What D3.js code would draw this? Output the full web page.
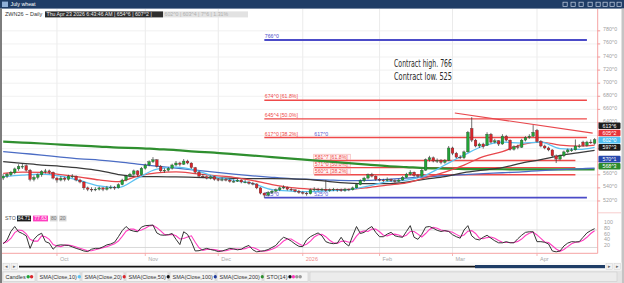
<!DOCTYPE html>
<html><head><meta charset="utf-8">
<script src="https://cdn.jsdelivr.net/npm/d3@7"></script>
<style>html,body{margin:0;padding:0;background:#fff;overflow:hidden}svg{display:block;font-family:"Liberation Sans",Arial,sans-serif}</style>
</head><body><svg id="c" width="624" height="283"></svg>
<script>
// ---------- DATA ----------
const monthLabels = ["Oct","Nov","Dec","2026","Feb","Mar","Apr"];
const monthIndex = [14,37,56,78,98,117,139];
const open = [555,558,560,563,569,572,574,567,553,556, 560,565,566,564,555,552,555,553,558,558,
 552,549,540,538,537,538,540,538,540,541, 540,545,552,558,561,566,560,570,575,580,
 583,573,566,567,570,575,578,576,581,578, 571,564,558,557,555,557,553,552,553,552,
 550,550,552,549,549,547,546,540,532,529, 533,535,537,540,541,538,537,535,533,532,
 531,537,538,537,538,536,537,538,537,536, 538,537,540,545,551,555,560,558,553,552,
 551,553,551,550,552,556,561,564,559,558, 567,583,586,581,582,579,582,601,593,587,
 586,595,631,613,604,607,605,622,610,612, 607,619,613,599,603,602,613,617,619,628,
 611,604,601,598,589,584,589,595,598,598, 604,610,605,610,608];
const high = [561,563,566,571,576,578,576,569,559,562, 567,569,568,565,557,558,557,560,561,559,
 554,550,542,541,541,542,541,543,544,543, 547,554,560,563,568,567,572,577,582,587,
 584,575,570,572,577,581,580,584,583,579, 572,566,561,559,559,558,555,556,555,554,
 553,554,553,552,550,549,547,541,533,535, 537,539,542,544,542,540,538,537,535,534,
 539,541,540,540,552,539,540,539,539,540, 539,542,547,553,557,562,563,559,555,554,
 556,554,553,554,558,563,567,565,561,569, 585,589,588,585,584,584,604,603,595,590,
 597,627,648,615,609,609,625,624,615,613, 622,621,614,605,606,615,619,622,636,630,
 613,606,603,599,591,591,597,600,601,614, 607,612,612,614,616];
const low = [552,555,558,561,566,569,565,550,550,553, 557,562,561,553,548,550,550,551,555,550,
 547,537,535,534,535,536,535,536,538,537, 539,544,550,556,559,557,559,568,573,578,
 571,564,563,565,568,573,573,575,576,569, 562,556,555,553,553,551,550,550,550,548,
 548,549,547,547,545,544,538,530,525,527, 531,533,535,538,536,535,533,531,530,528,
 530,535,535,535,534,534,535,534,534,534, 535,536,539,544,549,553,556,551,550,549,
 550,549,548,549,551,555,559,557,555,557, 566,580,579,578,576,577,581,590,585,584,
 584,594,610,602,601,600,604,608,608,604, 606,611,597,597,599,601,611,615,618,609,
 602,599,596,587,578,582,587,593,595,597, 601,603,603,607,606];
const close = [558,561,564,569,573,573,567,553,556,560, 565,566,564,555,552,555,553,558,558,552,
 549,540,538,537,538,540,538,540,541,540, 545,552,558,561,566,560,570,575,580,583,
 573,566,567,570,575,578,576,581,578,571, 564,558,557,555,557,553,552,553,552,550,
 550,552,549,549,547,546,540,532,529,533, 535,537,540,541,538,537,535,533,532,531,
 537,538,537,538,536,537,538,537,536,538, 537,540,545,551,555,560,558,553,552,551,
 553,551,550,552,556,561,564,559,558,567, 583,586,581,582,579,582,601,593,587,586,
 595,625,613,604,607,603,622,610,612,607, 619,613,599,603,602,613,617,619,625,611,
 604,601,598,589,584,589,595,598,598,604, 604,605,610,609,613.75];
// moving averages read at every 5th bar
const smaIndex = [0,5,10,15,20,25,30,35,40,45,50,55,60,65,70,75,80,85,90,95,100,105,110,115,120,125,130,135,140,145,150,154];
const sma10 = [557.3,559.6,561.1,558,551,543,540.5,555,568.8,571.8,567.2,557.3,551.9,546.6,537.4,535.1,534.3,535.9,537.4,542.8,549.6,551.9,559.6,574.9,590.2,604,610,608.5,610,600.1,598.9,602];
const sma20 = [562.2,564.2,563.7,560.4,556.5,552.2,549.6,558.1,563,564.5,561.9,558.8,556.2,551.2,545.1,540.5,538.2,537,537.7,540.5,544.3,547.7,555.8,564.2,574.9,587.9,595.5,606.2,610,605.5,603.9,605.25];
const sma50 = [580.2,577.6,574.9,572.9,570.3,566.5,560.4,557.3,557.3,556.8,556.1,555.3,554.7,554.2,554.2,553.9,552.7,549.6,547.4,546.6,546.6,548.9,553.5,557.3,563.4,567.2,571.1,577.9,583.3,589.4,594,597.375];
const sma100 = [595.5,592.8,590.2,587.1,584.4,582.5,579.8,576.4,573.3,570.3,567.2,564.2,561.1,558.5,556.2,554.2,553,551.9,551.2,551.5,553,555,556.8,558.8,560.4,561.9,563.1,564.5,566.5,568,569.2,570.125];
const sma200 = [610.8,609.3,607.8,606.2,604.7,603.2,601.6,600.9,599.3,597.8,595.5,594,591.7,589.4,587.1,584.8,582.5,580.2,577.9,575.6,573.3,571.8,570.3,569.5,568.8,568.8,568.5,568.3,568.3,568.3,568.4,568.375];
const stoK = [33,46,75,92,74,68,60,17,48,62, 69,40,35,14,27,29,28,27,22,17, 13,8,6,14,17,17,22,29,32,38,
 57,78,92,80,76,74,90,95,96,97, 70,63,62,64,68,48,30,74,65,40, 8,9,13,17,13,10,6,8,12,17,
 15,12,14,22,27,12,5,7,9,13, 20,27,43,55,50,42,32,24,23,46, 57,64,70,60,40,35,33,35,55,35,
 25,60,92,68,72,84,92,72,57,57, 66,72,60,57,55,75,95,55,48,65, 90,92,86,79,75,78,75,64,57,52,
 80,95,60,49,46,55,62,52,43,36, 36,40,36,36,50,62,72,74,74,40, 40,38,32,8,5,8,25,35,40,39,
 40,55,70,78,84.71];
const stoD = [35,40,51,71,80,78,67,48,42,42, 60,57,48,30,25,23,28,28,26,22, 17,13,9,9,12,16,19,23,28,33,
 42,58,76,83,83,77,80,86,94,96, 88,77,65,63,65,60,49,51,56,60, 38,19,10,13,14,13,10,8,9,12,
 15,15,14,16,21,20,15,8,7,10, 14,20,30,42,49,49,41,33,26,31, 42,56,64,65,57,45,36,34,41,42,
 38,40,59,73,77,75,83,83,74,62, 60,65,66,63,57,62,75,75,66,56, 68,82,89,86,80,77,76,72,65,58,
 63,76,78,68,52,50,54,56,52,44, 38,37,37,37,41,49,61,69,73,63, 51,39,37,26,15,7,13,23,33,38,
 39,45,55,68,77.63];
const priceTicks = [520,540,560,580,600,620,640,660,680,700,720,740,760,780];
const stoTicks = [20,40,60,80,100];
const stoLevels = [20,80];
const levelValues = [766,674,645.5,617,581.875,571,560.125,525];
const levelPct = ["","[61.8%]","[50.0%]","[38.2%]","[61.8%]","[50.0%]","[38.2%]",""];
const levelFrom = [68,68,68,68,81,81,81,68];
const levelTo = [152,152,152,152,149,149,149,152];
const markValues = [617,525];
const markIndex = [81,81];
const trendIndex = [117.6,153.5];
const trendValue = [654.4,623.8];
const notes = ["Contract high. 766","Contract low. 525"];
const legendItems = ["Candles","SMA(Close,10)","SMA(Close,20)","SMA(Close,50)","SMA(Close,100)","SMA(Close,200)","STO(14)"];

// ---------- DRAW ----------
const svg = d3.select("#c");
const fmt = v => Math.floor(v) + "^" + Math.round((v - Math.floor(v)) * 8);
const x = d3.scaleLinear().domain([0,154]).range([3.2,594.6]);
const y = d3.scaleLinear().domain([525,766]).range([197.7,40]);
const ys = d3.scaleLinear().domain([0,100]).range([253.3,224.2]);
const AX = 597.7;

svg.append("rect").attr("width",624).attr("height",283).attr("fill","#fff");
const defs = svg.append("defs");
defs.append("clipPath").attr("id","cp").append("rect").attr("x",2).attr("y",9).attr("width",AX-2).attr("height",203);
defs.append("clipPath").attr("id","cs").append("rect").attr("x",2).attr("y",214).attr("width",AX-2).attr("height",40);

// grid
const grid = svg.append("g");
grid.selectAll("line.v").data(monthIndex).join("line")
  .attr("x1",d=>x(d)).attr("x2",d=>x(d)).attr("y1",9).attr("y2",253.3)
  .attr("stroke","#e6e6e6").attr("stroke-width",0.8);
grid.selectAll("line.h").data(priceTicks).join("line")
  .attr("x1",2).attr("x2",AX).attr("y1",d=>y(d)).attr("y2",d=>y(d))
  .attr("stroke","#eeeeee").attr("stroke-width",0.8);
grid.selectAll("line.s").data(stoLevels).join("line")
  .attr("x1",2).attr("x2",AX).attr("y1",d=>ys(d)).attr("y2",d=>ys(d))
  .attr("stroke","#cfcfcf").attr("stroke-width",0.8);

const P = svg.append("g").attr("clip-path","url(#cp)");
// levels
const lv = P.append("g");
levelValues.forEach((v,k)=>{
  const col = (v===766||v===525) ? "#4b4bc8" : "#ef4a4a";
  lv.append("line").attr("x1",x(levelFrom[k])).attr("x2",x(levelTo[k]))
    .attr("y1",y(v)).attr("y2",y(v)).attr("stroke",col).attr("stroke-width",(v===766||v===525)?1.8:1.4);
  const t = fmt(v) + (levelPct[k] ? " " + levelPct[k] : "");
  if (levelFrom[k] === 81) {
    lv.append("rect").attr("x",x(levelFrom[k])-0.5).attr("y",y(v)-6.3).attr("width",36.5).attr("height",5.6)
      .attr("fill","#fff3f3").attr("stroke","#f4a0a0").attr("stroke-width",0.5);
  }
  lv.append("text").attr("x",x(levelFrom[k])+0.5).attr("y",y(v)-1.8).text(t)
    .attr("font-size",5.2).attr("fill",col);
});
markValues.forEach((v,k)=>{
  lv.append("text").attr("x",x(markIndex[k])).attr("y",y(v)-1.8).text(fmt(v))
    .attr("font-size",5.2).attr("fill","#5a5ad0");
});

// moving averages
const mk = arr => d3.line().x((d,i)=>x(smaIndex[i])).y(d=>y(d)).curve(d3.curveMonotoneX)(arr);
const smaStyle = [[sma200,"#2f8f2f",2.2],[sma100,"#4b6cc4",1.3],[sma50,"#3a3a3a",1.3],[sma20,"#e8474c",1.3],[sma10,"#5cc2f2",1.3]];
smaStyle.forEach(([a,c,w])=>P.append("path").attr("d",mk(a)).attr("fill","none").attr("stroke",c).attr("stroke-width",w));

// trend line
P.append("line").attr("x1",x(trendIndex[0])).attr("y1",y(trendValue[0]))
  .attr("x2",x(trendIndex[1])).attr("y2",y(trendValue[1])).attr("stroke","#e8474c").attr("stroke-width",1.2);

// candles
const idx = d3.range(close.length);
P.selectAll("line.wk").data(idx).join("line")
  .attr("x1",i=>x(i)).attr("x2",i=>x(i)).attr("y1",i=>y(high[i])).attr("y2",i=>y(low[i]))
  .attr("stroke","#333").attr("stroke-width",0.7);
P.selectAll("rect.bd").data(idx).join("rect")
  .attr("x",i=>x(i)-1.35).attr("width",2.7)
  .attr("y",i=>y(Math.max(open[i],close[i])))
  .attr("height",i=>Math.max(0.8,Math.abs(y(open[i])-y(close[i]))))
  .attr("fill",i=>close[i]>=open[i]?"#21a336":"#d9262c")
  .attr("stroke","#333").attr("stroke-width",0.3);

// notes
notes.forEach((t,k)=>svg.append("text").attr("x",394).attr("y",67+k*13).text(t)
  .attr("font-size",11).attr("fill","#2b2b2b")
  .attr("font-family","'Liberation Sans Narrow','DejaVu Sans Condensed',sans-serif")
  .attr("textLength",58).attr("lengthAdjust","spacingAndGlyphs"));

// stochastic
const S = svg.append("g").attr("clip-path","url(#cs)");
const sl = d3.line().x((d,i)=>x(i)).y(d=>ys(d));
S.append("path").attr("d",sl(stoD)).attr("fill","none").attr("stroke","#ff3ec0").attr("stroke-width",1.1);
S.append("path").attr("d",sl(stoK)).attr("fill","none").attr("stroke","#333").attr("stroke-width",1);

// right axis
svg.append("line").attr("x1",AX).attr("x2",AX).attr("y1",9).attr("y2",253.3).attr("stroke","#f5a3a3").attr("stroke-width",1);
svg.append("line").attr("x1",AX).attr("x2",621).attr("y1",212.8).attr("y2",212.8).attr("stroke","#f5c0c0").attr("stroke-width",0.8);
const ra = svg.append("g");
priceTicks.filter(v=>y(v)>12 && y(v)<210).forEach(v=>{
  ra.append("line").attr("x1",AX).attr("x2",AX+2.5).attr("y1",y(v)).attr("y2",y(v)).attr("stroke","#f08080").attr("stroke-width",0.8);
  ra.append("text").attr("x",603).attr("y",y(v)).attr("dy","0.1em").text(fmt(v)).attr("font-size",5.3).attr("fill","#a0a0a0");
});
stoTicks.forEach(v=>{
  ra.append("text").attr("x",604).attr("y",ys(v)).attr("dy","-0.05em").text(v).attr("font-size",5.3).attr("fill","#a0a0a0");
});

// last-value tags
const tags = [[close[close.length-1],"#1c1c1c"],[sma20[sma20.length-1],"#e6353b"],[sma10[sma10.length-1],"#4fc0f3"],
  [sma50[sma50.length-1],"#1c1c1c"],[sma100[sma100.length-1],"#2748ad"],[sma200[sma200.length-1],"#2c8a2c"]]
  .map(([v,c])=>({v,c,py:y(v)-3})).sort((a,b)=>b.py-a.py);
for (let k=1;k<tags.length;k++) tags[k].py = Math.min(tags[k].py, tags[k-1].py-7.2);
tags.forEach(t=>{
  svg.append("rect").attr("x",598.5).attr("y",t.py-3.3).attr("width",22).attr("height",6.6).attr("rx",1).attr("fill",t.c);
  svg.append("text").attr("x",609.5).attr("y",t.py).attr("dy","0.35em").attr("text-anchor","middle")
    .text(fmt(t.v)).attr("font-size",5.2).attr("fill","#fff");
});

// x axis
svg.append("line").attr("x1",2).attr("x2",AX).attr("y1",253.3).attr("y2",253.3).attr("stroke","#f5a3a3").attr("stroke-width",1);
monthIndex.forEach((m,k)=>{
  svg.append("line").attr("x1",x(m)).attr("x2",x(m)).attr("y1",253.3).attr("y2",256).attr("stroke","#f5a3a3").attr("stroke-width",0.8);
  svg.append("text").attr("x",x(m)+3).attr("y",261).text(monthLabels[k]).attr("font-size",5.5)
    .attr("fill",monthLabels[k]==="2026"?"#f08a8a":"#a8a8a8");
});

// title bar
svg.append("rect").attr("x",0).attr("y",0).attr("width",624).attr("height",8.6).attr("fill","#1f3d66");
svg.append("rect").attr("x",2).attr("y",1.6).attr("width",6).attr("height",5.4).attr("fill","#8fb0d8");
svg.append("text").attr("x",10.5).attr("y",6.3).text("July wheat").attr("font-size",5.3).attr("fill","#fff");
[563,571,579,588,596,603,610,617].forEach((cx,k)=>{
  svg.append("rect").attr("x",cx).attr("y",2.2).attr("width",4.2).attr("height",4.2)
    .attr("fill","none").attr("stroke","#c9d5e6").attr("stroke-width",0.7);
});
// borders
svg.append("rect").attr("x",0).attr("y",8.6).attr("width",2).attr("height",275).attr("fill","#7d7d7d");
svg.append("rect").attr("x",621.5).attr("y",8.6).attr("width",2.5).attr("height",275).attr("fill","#c4c4c4");

// header
svg.append("text").attr("x",5).attr("y",16).text("ZWN26 ~ Daily").attr("font-size",5.5).attr("fill","#333");
svg.append("rect").attr("x",45).attr("y",11.4).attr("width",118).attr("height",6).attr("fill","#2e2e2e");
svg.append("text").attr("x",46.5).attr("y",16).text("Thu Apr 23 2026 6:43:46 AM | 654^6 | 607^2 |").attr("font-size",5.2).attr("fill","#eee");
svg.append("rect").attr("x",163).attr("y",11.4).attr("width",85).attr("height",6).attr("fill","#e2e2e2");
svg.append("text").attr("x",164.5).attr("y",16).text("602^0 | 603^4 | 7^6 | 1.31%").attr("font-size",5.2).attr("fill","#b0b0b0");

// STO header
svg.append("text").attr("x",5).attr("y",220).text("STO").attr("font-size",5.3).attr("fill","#555");
const sh = [[stoK[stoK.length-1].toFixed(2),"#1c1c1c","#fff",17,14],[stoD[stoD.length-1].toFixed(2),"#ff3ec0","#fff",33,15],["80","#d8d8d8","#777",50,7.5],["20","#d8d8d8","#777",59,7.5]];
sh.forEach(([t,f,tc,bx,bw])=>{
  svg.append("rect").attr("x",bx).attr("y",215.6).attr("width",bw).attr("height",5.8).attr("fill",f);
  svg.append("text").attr("x",bx+bw/2).attr("y",220).attr("text-anchor","middle").text(t).attr("font-size",5).attr("fill",tc);
});

// scrollbar
svg.append("rect").attr("x",2).attr("y",262.5).attr("width",619.5).attr("height",8).attr("fill","#fafafa");
[[3,"◂"],[11,"▸"],[606,"▸"],[614,"▸"]].forEach(([bx,t])=>{
  svg.append("rect").attr("x",bx).attr("y",263.5).attr("width",6.5).attr("height",6).attr("fill","#f2f2f2").attr("stroke","#cfcfcf").attr("stroke-width",0.5);
  svg.append("text").attr("x",bx+3.25).attr("y",268.2).attr("text-anchor","middle").text(t).attr("font-size",4.5).attr("fill","#666");
});
svg.append("line").attr("x1",19).attr("x2",476).attr("y1",266.6).attr("y2",266.6).attr("stroke","#111").attr("stroke-width",1.6);
svg.append("rect").attr("x",475).attr("y",265).attr("width",130).attr("height",3.2).attr("fill","#1f3d66");

// legend
svg.append("rect").attr("x",2).attr("y",270.5).attr("width",619.5).attr("height",12.5).attr("fill","#e4e4e4");
const dots = [["#21a336","#d9262c"],["#5cc2f2"],["#d9262c"],["#111"],["#1f3b9c"],["#2f8f2f"],["#111","#ff3ec0","#999","#999"]];
let lx = 3;
legendItems.forEach((t,k)=>{
  const w = [32,43,42,42,45,45,44][k];
  svg.append("rect").attr("x",lx).attr("y",272).attr("width",w).attr("height",9.5).attr("fill","#f5f5f5").attr("stroke","#c6c6c6").attr("stroke-width",0.5);
  const tx = svg.append("text").attr("x",lx+2.5).attr("y",278.8).text(t).attr("font-size",5.5).attr("fill","#333");
  const tw = tx.node().getComputedTextLength();
  dots[k].forEach((c,j)=>svg.append("circle").attr("cx",lx+5+tw+j*3.4).attr("cy",276.8).attr("r",1.7).attr("fill",c));
  lx += w + 2;
});
svg.append("rect").attr("x",lx).attr("y",272).attr("width",617-lx).attr("height",9.5).attr("fill","#ececec").attr("stroke","#c6c6c6").attr("stroke-width",0.5);
</script></body></html>
